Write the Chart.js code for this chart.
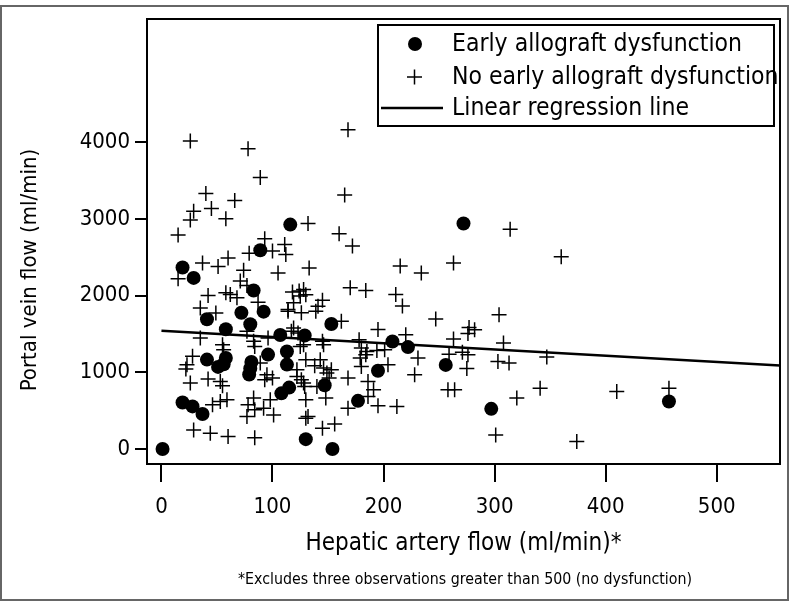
<!DOCTYPE html>
<html>
<head>
<meta charset="utf-8">
<script src="https://cdn.jsdelivr.net/npm/chart.js@4.4.1/dist/chart.umd.min.js"></script>
<style>
html, body { margin: 0; padding: 0; background: #fff; }
#wrap { position: relative; width: 796px; height: 608px; }
#marco { position: absolute; left: 0; top: 5px; width: 785px; height: 592px; border: 2px solid #666; pointer-events: none; }
</style>
</head>
<body>
<div id="wrap">
<canvas id="flujo" width="796" height="608"></canvas>
<div id="marco"></div>
</div>
<script>
// ticks
const xTicks = [0, 100, 200, 300, 400, 500];
const yTicks = [0, 1000, 2000, 3000, 4000];

// Early allograft dysfunction (hepatic artery flow, portal vein flow)
const disfX = [1, 19, 29, 41, 58, 72, 80, 83, 89, 92, 116,
  41, 51, 56, 58, 81, 80, 79, 96, 113, 113, 107, 129, 153,
  108, 115, 147, 19, 28, 37, 130, 154, 177, 195, 208, 222, 256, 272, 297, 457];
const disfY = [0, 2365, 2230, 1690, 1560, 1775, 1625, 2065, 2590, 1790, 2925,
  1165, 1070, 1105, 1185, 1135, 1050, 970, 1230, 1270, 1100, 1485, 1480, 1630,
  725, 800, 830, 605, 555, 455, 128, 0, 627, 1020, 1400, 1328, 1096, 2940, 523, 619];

// No early allograft dysfunction
const sinDisfX = [26, 78, 89, 40, 66, 45, 29, 26, 58, 15, 132, 93, 111, 79, 100, 112, 37, 51, 60, 15,
  74, 105, 133, 71, 42, 58, 62, 68, 77, 118, 124, 128, 125, 130,
  168, 165, 160, 172, 215, 234, 263, 170, 184, 211, 217, 145, 141, 139, 126, 162, 247, 195, 220,
  277, 282, 276, 263, 178, 145, 128, 180, 185, 194, 201, 179, 180, 204, 231, 228, 259, 271, 276, 275, 258, 264,
  130, 143, 138, 146, 149, 153, 126, 129, 140, 168, 186, 191, 186, 195, 212, 168, 148, 130, 132, 130, 145, 156,
  35, 49, 87, 119, 114, 119, 35, 55, 56, 83, 77, 96, 84, 125, 28, 23, 22, 26, 42, 53, 55, 89, 95, 93, 100, 122, 128,
  46, 53, 59, 78, 83, 84, 92, 101, 77, 29, 44, 60, 84,
  117, 123, 146, 184, 122, 151, 98, 114,
  314, 360, 304, 308, 303, 313, 347, 320, 341, 410, 457, 301, 374];
const sinDisfY = [4015, 3915, 3540, 3330, 3240, 3135, 3100, 2985, 3000, 2790, 2940, 2740, 2665, 2550, 2580, 2535, 2425, 2380, 2490, 2220,
  2330, 2295, 2360, 2190, 2000, 2035, 2015, 1970, 2130, 2045, 2060, 2080, 1995, 2010,
  4160, 3310, 2805, 2645, 2385, 2295, 2425, 2100, 2065, 2013, 1865, 1940, 1860, 1795, 1775, 1665, 1695, 1556, 1490,
  1585, 1553, 1505, 1435, 1425, 1403, 1359, 1316, 1272, 1285, 1294, 1185, 1076, 1098, 1185, 967, 1235, 1262, 1229, 1050, 771, 771,
  1163, 1163, 1085, 1055, 990, 1033, 902, 814, 814, 924, 880, 771, 684, 562, 553, 532, 663, 640, 422, 401, 271, 327,
  1839, 1774, 1912, 1905, 1795, 1578, 1447, 1359, 1294, 1403, 1533, 1447, 1337, 1337, 1207, 1098, 1042, 859, 911, 880, 824, 1120, 967, 902, 924, 1033, 859,
  575, 618, 640, 575, 663, 510, 532, 444, 422, 248, 205, 161, 145,
  1533, 1512, 1359, 1229, 945, 924, 640, 1817,
  2863, 2505, 1751, 1381, 1141, 1120, 1199, 663, 793, 749, 793, 183, 96];

// linear regression line (end points)
const regX = [0, 557];
const regY = [1542, 1089];

const fuente = "'DejaVu Sans Condensed', 'Liberation Sans', sans-serif";

const puntos = (xs, ys) => xs.map((x, i) => ({ x: x, y: ys[i] }));

// caja del grafico, leyenda, titulo del eje y, nota al pie
const marcoPlot = {
    id: 'marcoPlot',
    afterDraw(chart) {
        const { ctx, chartArea: a } = chart;
        ctx.save();
        ctx.strokeStyle = '#000';
        ctx.lineWidth = 2;
        ctx.strokeRect(a.left, a.top, a.right - a.left, a.bottom - a.top);

        // leyenda
        const lx = 378, ly = 25, lw = 396, lh = 101;
        ctx.fillStyle = '#fff';
        ctx.fillRect(lx, ly, lw, lh);
        ctx.strokeRect(lx, ly, lw, lh);
        const ds = chart.data.datasets;
        const filas = [44, 77, 108];
        ctx.fillStyle = '#000';
        ctx.textBaseline = 'middle';
        ctx.textAlign = 'left';
        ctx.font = '24.5px ' + fuente;
        ds.forEach((d, i) => {
            const y = filas[i];
            if (i === 0) {
                ctx.beginPath();
                ctx.arc(415, y, 7, 0, Math.PI * 2);
                ctx.fill();
            } else if (i === 1) {
                ctx.lineWidth = 1.5;
                ctx.beginPath();
                ctx.moveTo(407, y); ctx.lineTo(422, y);
                ctx.moveTo(414.5, y - 7.5); ctx.lineTo(414.5, y + 7.5);
                ctx.stroke();
            } else {
                ctx.lineWidth = 2.5;
                ctx.beginPath();
                ctx.moveTo(381, y); ctx.lineTo(443, y);
                ctx.stroke();
            }
            ctx.fillText(d.label, 452, y + 1);
        });

        // titulo eje y
        ctx.save();
        ctx.translate(30, 270);
        ctx.rotate(-Math.PI / 2);
        ctx.textAlign = 'center';
        ctx.font = '22px ' + fuente;
        ctx.fillText('Portal vein flow (ml/min)', 0, 0);
        ctx.restore();

        // nota al pie
        ctx.font = '15.8px ' + fuente;
        ctx.textAlign = 'center';
        ctx.fillText('*Excludes three observations greater than 500 (no dysfunction)', 465, 580);
        ctx.restore();
    }
};

new Chart(document.getElementById('flujo').getContext('2d'), {
    type: 'scatter',
    data: {
        datasets: [{
            label: 'Early allograft dysfunction',
            data: puntos(disfX, disfY),
            pointStyle: 'circle',
            pointRadius: 7,
            pointBackgroundColor: '#000',
            pointBorderColor: '#000',
            pointBorderWidth: 0
        }, {
            label: 'No early allograft dysfunction',
            data: puntos(sinDisfX, sinDisfY),
            pointStyle: 'cross',
            pointRadius: 7.5,
            pointBorderColor: '#000',
            pointBorderWidth: 1.5
        }, {
            label: 'Linear regression line',
            data: puntos(regX, regY),
            showLine: true,
            borderColor: '#000',
            borderWidth: 2.5,
            pointRadius: 0
        }]
    },
    options: {
        responsive: false,
        animation: false,
        events: [],
        layout: { padding: { top: 19, right: 16, left: 0, bottom: 0 } },
        scales: {
            x: {
                type: 'linear',
                min: -13,
                max: 557,
                afterBuildTicks: s => { s.ticks = xTicks.map(v => ({ value: v })); },
                afterFit: s => { s.height = 144; },
                grid: { drawOnChartArea: false, drawTicks: true, tickLength: 18, color: '#000', lineWidth: 2 },
                border: { display: false },
                ticks: { color: '#000', padding: 12, maxRotation: 0, font: { family: fuente, size: 22 }, callback: v => String(v) },
                title: { display: true, text: 'Hepatic artery flow (ml/min)*', color: '#000', font: { family: fuente, size: 24 }, padding: { top: 0, bottom: 50 } }
            },
            y: {
                type: 'linear',
                min: -196,
                max: 5605,
                afterBuildTicks: s => { s.ticks = yTicks.map(v => ({ value: v })); },
                afterFit: s => { s.width = 147; },
                grid: { drawOnChartArea: false, drawTicks: true, tickLength: 12, color: '#000', lineWidth: 2 },
                border: { display: false },
                ticks: { color: '#000', padding: 5, font: { family: fuente, size: 22 }, callback: v => String(v) },
                title: { display: false }
            }
        },
        plugins: {
            legend: { display: false },
            tooltip: { enabled: false }
        }
    },
    plugins: [marcoPlot]
});
</script>
</body>
</html>
